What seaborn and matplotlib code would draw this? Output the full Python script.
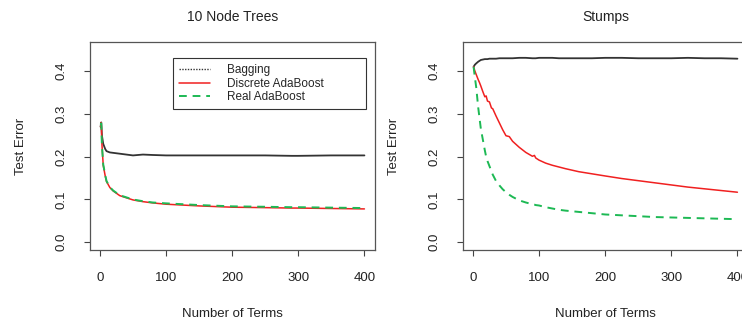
import pandas as pd
import seaborn as sns
import matplotlib.pyplot as plt
from matplotlib.lines import Line2D

# values
trees_terms = [1, 2, 3, 5, 8, 10, 15, 20, 30, 40, 50, 65, 80, 100, 150, 200, 250, 290, 300, 350, 400]
trees_bagging = [0.270, 0.280, 0.250, 0.230, 0.218, 0.213, 0.210, 0.209, 0.207, 0.205, 0.203, 0.205,
                 0.204, 0.203, 0.203, 0.203, 0.203, 0.202, 0.202, 0.203, 0.203]
trees_discrete = [0.270, 0.280, 0.230, 0.180, 0.155, 0.142, 0.128, 0.120, 0.109, 0.104, 0.099, 0.095,
                  0.092, 0.089, 0.085, 0.082, 0.081, 0.080, 0.080, 0.079, 0.078]
trees_real = [0.275, 0.278, 0.228, 0.182, 0.157, 0.143, 0.129, 0.121, 0.110, 0.105, 0.100, 0.096,
              0.093, 0.091, 0.087, 0.084, 0.083, 0.082, 0.082, 0.081, 0.080]

stumps_terms = [1, 3, 5, 8, 10, 12, 15, 18, 20, 22, 25, 28, 30, 35, 40, 45, 50, 55, 60, 70, 80, 90,
                93, 95, 100, 110, 120, 130, 140, 160, 180, 200, 225, 250, 275, 300, 325, 350, 375, 400]
stumps_bagging = [0.410, 0.415, 0.418, 0.422, 0.424, 0.426, 0.427, 0.428, 0.428, 0.428, 0.429, 0.429,
                  0.429, 0.429, 0.430, 0.430, 0.430, 0.430, 0.430, 0.431, 0.431, 0.430, 0.430, 0.430,
                  0.431, 0.431, 0.431, 0.430, 0.430, 0.430, 0.430, 0.431, 0.431, 0.430, 0.430, 0.430,
                  0.431, 0.430, 0.430, 0.429]
stumps_discrete = [0.410, 0.400, 0.392, 0.380, 0.373, 0.365, 0.352, 0.340, 0.342, 0.330, 0.328, 0.314,
                   0.312, 0.295, 0.279, 0.263, 0.249, 0.247, 0.236, 0.222, 0.210, 0.201, 0.203, 0.197,
                   0.192, 0.185, 0.180, 0.176, 0.172, 0.165, 0.160, 0.155, 0.149, 0.144, 0.139, 0.134,
                   0.129, 0.125, 0.121, 0.117]
stumps_real = [0.410, 0.385, 0.362, 0.315, 0.290, 0.265, 0.240, 0.215, 0.200, 0.190, 0.178, 0.166,
               0.158, 0.143, 0.133, 0.124, 0.117, 0.111, 0.106, 0.098, 0.093, 0.089, 0.088, 0.087,
               0.086, 0.082, 0.079, 0.076, 0.074, 0.071, 0.068, 0.065, 0.063, 0.061, 0.059, 0.058,
               0.057, 0.056, 0.055, 0.054]

x_ticks = [0, 100, 200, 300, 400]
y_ticks = [0.0, 0.1, 0.2, 0.3, 0.4]
titles = ['10 Node Trees', 'Stumps']
labels = ['Bagging', 'Discrete AdaBoost', 'Real AdaBoost']

sns.set_style('white')
plt.rcParams['font.family'] = ['Liberation Sans', 'DejaVu Sans']
plt.rcParams['font.size'] = 9.5

fig = plt.figure(figsize=(7.42, 3.24), dpi=100)
ax1 = fig.add_axes([90 / 742, 74 / 324, 285 / 742, 208 / 324])
ax2 = fig.add_axes([463 / 742, 74 / 324, 285 / 742, 208 / 324])

black = '#333333'
red = '#f02020'
green = '#1db954'

panels = [
    (ax1, trees_terms, trees_bagging, trees_discrete, trees_real),
    (ax2, stumps_terms, stumps_bagging, stumps_discrete, stumps_real),
]

for i, (ax, xs, bag, disc, real) in enumerate(panels):
    df = pd.DataFrame({'terms': xs, 'bag': bag, 'disc': disc, 'real': real})
    sns.lineplot(data=df, x='terms', y='bag', ax=ax, color=black, lw=1.3)
    sns.lineplot(data=df, x='terms', y='disc', ax=ax, color=red, lw=1.1)
    sns.lineplot(data=df, x='terms', y='real', ax=ax, color=green, lw=1.4, dashes=False,
                 linestyle=(0, (4, 3)))
    ax.set_xlim(-15, 416)
    ax.set_ylim(-0.018, 0.468)
    ax.set_xticks(x_ticks)
    ax.set_yticks(y_ticks)
    ax.set_xticklabels([str(t) for t in x_ticks])
    ax.set_yticklabels([f'{t:.1f}' for t in y_ticks], rotation=90, va='center')
    ax.tick_params(axis='both', direction='out', length=4, width=0.8, color='#444444',
                   bottom=True, left=True, labelsize=9.5, labelcolor='#222222')
    ax.tick_params(axis='x', pad=12)
    ax.tick_params(axis='y', pad=12)
    for s in ax.spines.values():
        s.set_visible(True)
        s.set_color('#555555')
        s.set_linewidth(0.9)
    ax.set_title(titles[i], fontsize=10, pad=15, color='#222222')
    ax.set_xlabel('Number of Terms', fontsize=9.5, labelpad=17, color='#222222')
    ax.set_ylabel('Test Error', fontsize=9.5, labelpad=21, color='#222222')

handles = [
    Line2D([], [], color=black, lw=1.0, linestyle=(0, (1, 1))),
    Line2D([], [], color=red, lw=1.1),
    Line2D([], [], color=green, lw=1.4, linestyle=(0, (4, 3))),
]
ax1.legend(handles, labels, loc='upper left', bbox_to_anchor=(0.291, 0.678, 0.677, 0.245),
           mode='expand', frameon=True, fancybox=False, edgecolor='#333333', framealpha=1,
           fontsize=8.5, handlelength=2.6, handletextpad=1.5, labelspacing=0.15, borderpad=0.5,
           borderaxespad=0)
ax1.get_legend().get_frame().set_linewidth(0.8)

fig.savefig('out.png', dpi=100)
